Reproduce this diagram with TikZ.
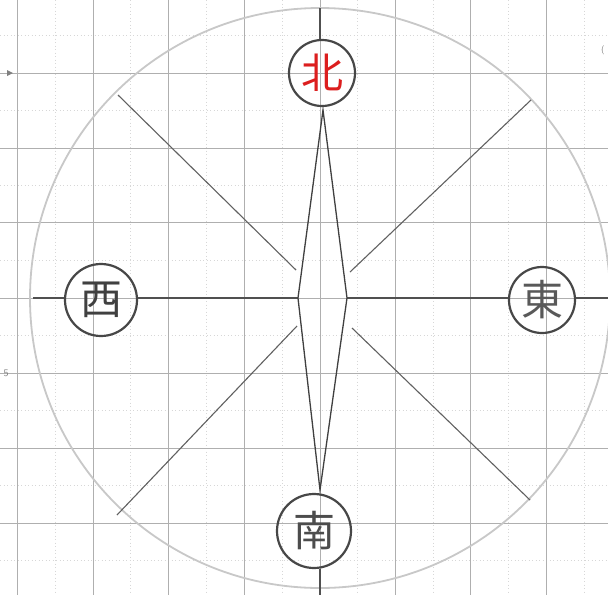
\documentclass[tikz,border=0pt]{standalone}
\usepackage{fontspec}
\newfontfamily\cjk{Noto Sans CJK JP}
\definecolor{pencil}{RGB}{80,80,80}
\definecolor{gridc}{RGB}{175,175,175}
\definecolor{minorc}{RGB}{215,215,215}
\definecolor{ringc}{RGB}{200,200,200}
\definecolor{redink}{RGB}{220,30,30}
\begin{document}
\begin{tikzpicture}[x=1pt,y=-1pt,
  gridline/.style={draw=gridc,line width=0.6pt},
  minorline/.style={draw=minorc,line width=0.5pt,dash pattern=on 1pt off 2.5pt},
  bigring/.style={draw=ringc,line width=1.8pt},
  axisline/.style={draw=pencil,line width=1.4pt},
  needle/.style={draw=black!75,line width=1.3pt,line join=miter},
  diag/.style={draw=pencil!90,line width=1.1pt},
  label/.style={circle,draw=black!72,line width=2.2pt,inner sep=0pt,font=\cjk\fontsize{42}{42}\selectfont}
]
\useasboundingbox (0,0) rectangle (608,595);
\fill[white] (0,0) rectangle (608,595);
% grid
\foreach \x in {55,130,206,282,357,433,508,584} \draw[minorline] (\x,0) -- (\x,595);
\foreach \y in {35,110,185,260,335,410,485,560} \draw[minorline] (0,\y) -- (608,\y);
\foreach \x in {17,93,168,244,320,395,470,546} \draw[gridline] (\x,0) -- (\x,595);
\foreach \y in {73,148,222,298,373,448,523} \draw[gridline] (0,\y) -- (608,\y);
% margin marks
\node[text=gray,font=\sffamily\fontsize{10}{10}\selectfont] (five) at (6,373) {5};
\node[text=gray,font=\sffamily\fontsize{9}{9}\selectfont] (paren) at (603,50) {(};
\fill[gray] (7,70) -- (13,73) -- (7,76) -- cycle;
% big circle
\draw[bigring] (320,298) circle[radius=290pt];
% labels
\node[label,minimum size=66pt,text=redink] (N) at (322,73) {北};
\node[label,minimum size=72pt,text=black!75] (W) at (101,300) {西};
\node[label,minimum size=66pt,text=black!65] (E) at (542,300) {東};
\node[label,minimum size=74pt,text=black!70] (S) at (314,531) {南};
% key points
\coordinate (ctr) at (320,298);
\coordinate (L) at (298,298);
\coordinate (R) at (347,298);
\coordinate (Ntip) at (323,110);
\coordinate (Stip) at (320,490);
\coordinate (westend) at (33,298);
\coordinate (eastend) at (608,298);
\coordinate (northend) at (320,8);
\coordinate (southend) at (320,595);
% axes
\draw[axisline] (westend) -- (W.west |- ctr);
\draw[axisline] (W.east |- ctr) -- (L);
\draw[axisline] (R) -- (E.west |- ctr);
\draw[axisline] (E.east |- ctr) -- (eastend);
\draw[axisline] (northend) -- (northend |- N.north);
\draw[axisline] (southend |- S.south) -- (southend);
% needle
\draw[needle] (Ntip) -- (L) -- (Stip) -- (R) -- cycle;
% diagonals
\coordinate (nw1) at (118,95);  \coordinate (nw2) at (296,270);
\coordinate (ne1) at (531,100); \coordinate (ne2) at (350,272);
\coordinate (sw1) at (117,515); \coordinate (sw2) at (297,326);
\coordinate (se1) at (530,500); \coordinate (se2) at (352,328);
\draw[diag] (nw1) -- (nw2);
\draw[diag] (ne1) -- (ne2);
\draw[diag] (sw1) -- (sw2);
\draw[diag] (se1) -- (se2);
\end{tikzpicture}
\end{document}
